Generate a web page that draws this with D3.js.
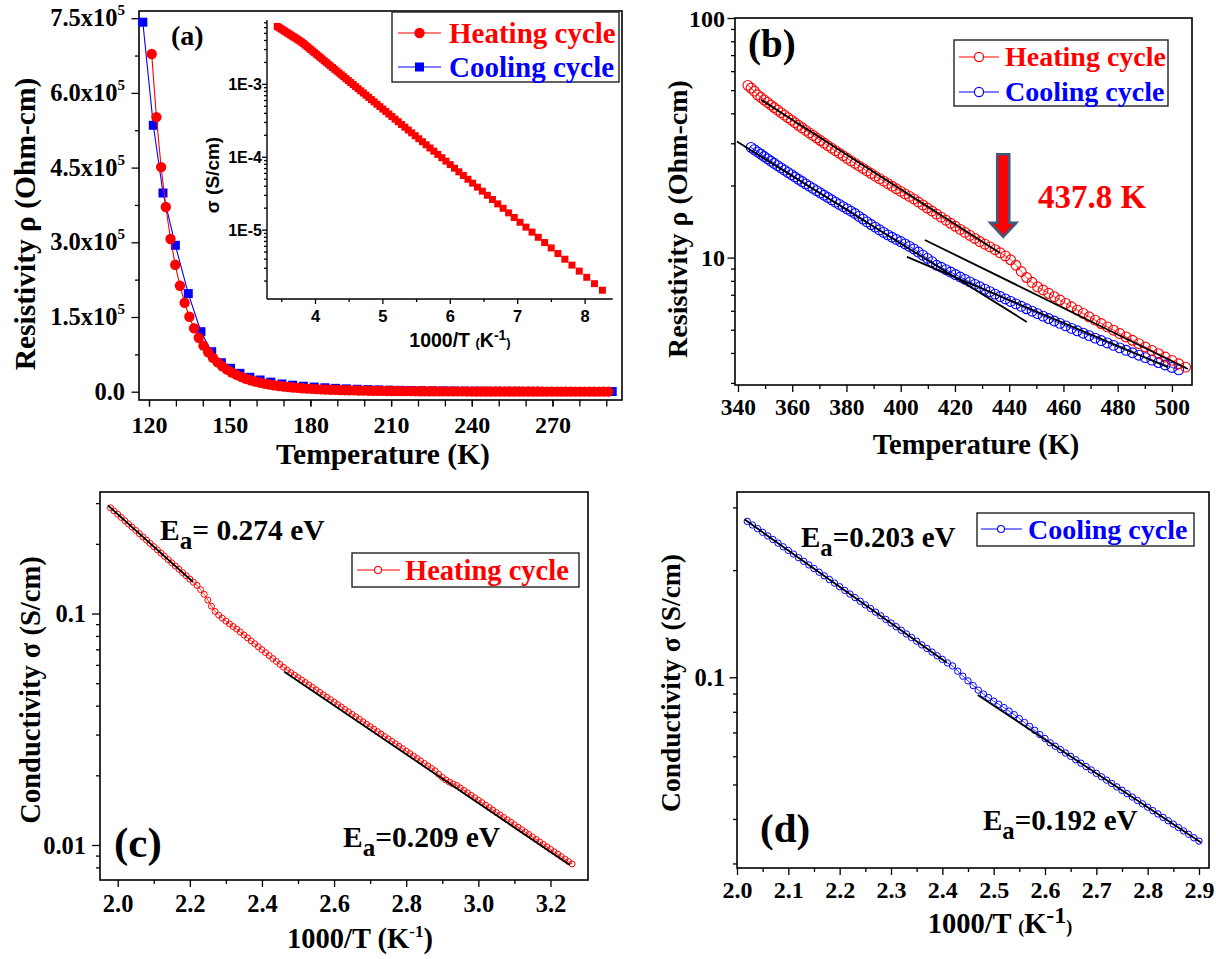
<!DOCTYPE html>
<html><head><meta charset="utf-8">
<script src="https://cdn.jsdelivr.net/npm/d3@7"></script>
<style>body{margin:0;background:#fff}svg{display:block}</style>
</head><body>
<svg id="c" width="1216" height="959"></svg>
<script>
// ---------------- DATA ----------------
// Panel (a): heating cycle, low temperature
const heatA_T = [121.0,122.75,124.5,126.25,128.0,129.75,131.5,133.25,135.0,136.75,
138.5,140.25,142.0,143.75,145.5,147.25,149.0,150.75,152.5,154.25,
156.0,157.75,159.5,161.25,163.0,164.75,166.5,168.25,170.0,171.75,
173.5,175.25,177.0,178.75,180.5,182.25,184.0,185.75,187.5,189.25,
191.0,192.75,194.5,196.25,198.0,199.75,201.5,203.25,205.0,206.75,
208.5,210.25,212.0,213.75,215.5,217.25,219.0,220.75,222.5,224.25,
226.0,227.75,229.5,231.25,233.0,234.75,236.5,238.25,240.0,241.75,
243.5,245.25,247.0,248.75,250.5,252.25,254.0,255.75,257.5,259.25,
261.0,262.75,264.5,266.25,268.0,269.75,271.5,273.25,275.0,276.75,
278.5,280.25,282.0,283.75,285.5,287.25,289.0,290.75];
const heatA_rho = [678200,551400,451000,370900,306600,254800,212700,178500,150500,127400,
108300,92450,79210,68130,58840,50970,44310,38640,33800,29660,
26100,23040,20390,18090,16090,14350,12830,11490,10320,9290,
8380,7580,6860,6230,5660,5150,4700,4300,3935,3610,
3310,3050,2810,2590,2390,2215,2050,1904,1768,1645,
1531,1427,1332,1245,1165,1091,1022,959,901,848,
797,751,708,669,631,597,565,535,507,481,
456,433,412,392,373,355,338,323,308,294,
281,269,259,250.5,242,234,227,220,213,206,
200,194,188,183,177,172,167,163];
// Panel (a): cooling cycle
const coolA_T = [117.7,121.6,125.2,129.8,134.6,139.3,143.3,146.9,150.3,153.8,
157.5,161.3,165.3,169.4,173.4,177.4,181.4,185.4,189.4,193.4,
197.4,201.4,205.4,209.4,213.4,217.4,221.4,225.4,229.4,233.4,
237.4,241.4,245.4,249.4,253.4,257.4,261.4,265.4,269.4,273.4,
277.4,281.4,285.4,289.4,292.2];
const coolA_rho = [742000,535000,399000,294000,197000,120500,80300,58200,47000,36900,
28900,23500,19200,15500,13000,11000,9300,7900,6700,5700,
4900,4200,3600,3100,2700,2300,2000,1800,1600,1400,
1200,1100,1000,900,800,700,650,600,550,500,
450,400,370,340,300];
const aXTicks = [120,150,180,210,240,270];
const aYTicks = [0,150000,300000,450000,600000,750000];
const insetXTicks = [4,5,6,7,8];
const insetYTicks = [1e-5,1e-4,1e-3];
const insetYLabels = ["1E-5","1E-4","1E-3"];

// Panels (b),(c): heating cycle, high temperature (x = 1000/T, sigma in S/cm)
const heatInvT = [1.98,1.99,2.00,2.01,2.02,2.03,2.04,2.05,2.06,2.07,
2.08,2.09,2.10,2.11,2.12,2.13,2.14,2.15,2.16,2.17,
2.18,2.19,2.20,2.21,2.22,2.23,2.24,2.25,2.26,2.27,
2.28,2.29,2.30,2.31,2.32,2.33,2.34,2.35,2.36,2.37,
2.38,2.39,2.40,2.41,2.42,2.43,2.44,2.45,2.46,2.47,
2.48,2.49,2.50,2.51,2.52,2.53,2.54,2.55,2.56,2.57,
2.58,2.59,2.60,2.61,2.62,2.63,2.64,2.65,2.66,2.67,
2.68,2.69,2.70,2.71,2.72,2.73,2.74,2.75,2.76,2.77,
2.78,2.79,2.80,2.81,2.82,2.83,2.84,2.85,2.86,2.87,
2.88,2.89,2.90,2.91,2.92,2.93,2.94,2.95,2.96,2.97,
2.98,2.99,3.00,3.01,3.02,3.03,3.04,3.05,3.06,3.07,
3.08,3.09,3.10,3.11,3.12,3.13,3.14,3.15,3.16,3.17,
3.18,3.19,3.20,3.21,3.22,3.23,3.24,3.25,3.26];
const heatSigma = [0.2864,0.2773,0.2685,0.2600,0.2518,0.2438,0.2361,0.2286,0.2213,0.2143,
0.2075,0.2009,0.1946,0.1884,0.1824,0.1766,0.1710,0.1656,0.1604,0.1553,
0.1503,0.1456,0.1409,0.1365,0.1324,0.1268,0.1211,0.1143,0.1076,0.1021,
0.0984,0.0955,0.0927,0.0902,0.0879,0.0857,0.0832,0.0808,0.0785,0.0762,
0.0740,0.0719,0.0698,0.0678,0.0658,0.0639,0.0621,0.0603,0.0586,0.0569,
0.05553,0.05419,0.05289,0.05161,0.05037,0.04915,0.04797,0.04681,0.04568,0.04458,
0.04351,0.04246,0.04143,0.04043,0.03946,0.03851,0.03758,0.03667,0.03579,0.03493,
0.03408,0.03326,0.03246,0.03168,0.03091,0.03017,0.02944,0.02873,0.02804,0.02736,
0.02670,0.02606,0.02543,0.02482,0.02422,0.02364,0.02307,0.02251,0.02197,0.02144,
0.02092,0.02020,0.01960,0.01910,0.01870,0.01835,0.01807,0.01764,0.01721,0.01680,
0.01639,0.01600,0.01561,0.01524,0.01487,0.01451,0.01416,0.01382,0.01349,0.01316,
0.01285,0.01254,0.01223,0.01194,0.01165,0.01137,0.01110,0.01083,0.01057,0.01031,
0.01006,0.00982,0.00958,0.00935,0.00913,0.00891,0.00869,0.00848,0.00828];
// Panels (b),(d): cooling cycle
const coolInvT = [1.99,2.00,2.01,2.02,2.03,2.04,2.05,2.06,2.07,2.08,
2.09,2.10,2.11,2.12,2.13,2.14,2.15,2.16,2.17,2.18,
2.19,2.20,2.21,2.22,2.23,2.24,2.25,2.26,2.27,2.28,
2.29,2.30,2.31,2.32,2.33,2.34,2.35,2.36,2.37,2.38,
2.39,2.40,2.41,2.42,2.43,2.44,2.45,2.46,2.47,2.48,
2.49,2.50,2.51,2.52,2.53,2.54,2.55,2.56,2.57,2.58,
2.59,2.60,2.61,2.62,2.63,2.64,2.65,2.66,2.67,2.68,
2.69,2.70,2.71,2.72,2.73,2.74,2.75,2.76,2.77,2.78,
2.79,2.80,2.81,2.82,2.83,2.84,2.85,2.86,2.87,2.88,
2.89,2.90];
const coolSigma = [0.2941,0.2873,0.2806,0.2741,0.2677,0.2615,0.2554,0.2495,0.2437,0.2381,
0.2325,0.2271,0.2219,0.2167,0.2117,0.2068,0.2020,0.1973,0.1927,0.1882,
0.1839,0.1796,0.1754,0.1713,0.1674,0.1635,0.1597,0.1560,0.1524,0.1488,
0.1454,0.1420,0.1387,0.1355,0.1323,0.1293,0.1263,0.1233,0.1205,0.1177,
0.1149,0.1123,0.1097,0.1076,0.1040,0.1007,0.0977,0.0948,0.0920,0.08974,
0.08770,0.08570,0.08395,0.08222,0.08035,0.07852,0.07656,0.07464,0.07278,0.07096,
0.06902,0.06730,0.06544,0.06402,0.06263,0.06128,0.05995,0.05865,0.05738,0.05613,
0.05492,0.05373,0.05256,0.05142,0.05031,0.04922,0.04815,0.04711,0.04609,0.04509,
0.04411,0.04316,0.04222,0.04131,0.04041,0.03954,0.03868,0.03784,0.03702,0.03622,
0.03543,0.03466];

const bXTicks = [340,360,380,400,420,440,460,480,500];
const bYTicks = [10,100];
const cXTicks = [2.0,2.2,2.4,2.6,2.8,3.0,3.2];
const cYTicks = [0.01,0.1];
const dXTicks = [2.0,2.1,2.2,2.3,2.4,2.5,2.6,2.7,2.8,2.9];
const dYTicks = [0.1];

// Linear fits [x1, y1, x2, y2]
const fitB = [[348.5,45.6,436.6,10.46],[408.9,11.85,505.9,3.43],[339.6,30.5,446.5,5.39],[402.3,10.07,498.5,3.49]];
const fitC = [[1.973,0.2931,2.209,0.1368],[2.462,0.05598,3.253,0.008222]];
const fitD = [[2.015,0.2773,2.409,0.1099],[2.469,0.0891,2.904,0.03436]];
const arrowT = 437.8, arrowRho = [27, 12.2];

// ---------------- DRAWING ----------------
const svg = d3.select("#c");
const SERIF = '"Liberation Serif","Times New Roman",serif';
const SANS = '"Liberation Sans",Arial,sans-serif';
const RED = "#ff0000", BLUE = "#0000ff";

function frame(x0,y0,x1,y1){
  svg.append("rect").attr("x",x0).attr("y",y0).attr("width",x1-x0).attr("height",y1-y0)
    .attr("fill","none").attr("stroke","#000").attr("stroke-width",1.6);
}
function styleTicks(g){ g.select(".domain").remove(); g.selectAll(".tick line").attr("stroke","#000").attr("stroke-width",1.3); }
function xAxis(scale, vals, y, size, fmt, lab){
  const g = svg.append("g").attr("transform",`translate(0,${y})`)
    .call(d3.axisBottom(scale).tickValues(vals).tickSize(size).tickSizeOuter(0).tickFormat(fmt||(()=>"")));
  styleTicks(g);
  if (fmt) g.selectAll(".tick text").attr("y",lab.off).attr("dy",0).attr("font-family",lab.ff||SERIF)
     .attr("font-size",lab.fs).attr("font-weight","bold").attr("fill","#000");
  return g;
}
function yAxis(scale, vals, x, size, fmt, lab){
  const g = svg.append("g").attr("transform",`translate(${x},0)`)
    .call(d3.axisLeft(scale).tickValues(vals).tickSize(size).tickSizeOuter(0).tickFormat(fmt||(()=>"")));
  styleTicks(g);
  if (fmt) g.selectAll(".tick text").attr("x",-lab.off).attr("dy","0.34em").attr("font-family",lab.ff||SERIF)
     .attr("font-size",lab.fs).attr("font-weight","bold").attr("fill","#000");
  return g;
}
function logTicks(dom, majorOnly){
  const out=[]; const lo=Math.floor(Math.log10(dom[0])), hi=Math.ceil(Math.log10(dom[1]));
  for(let e=lo;e<=hi;e++) for(let m=1;m<=9;m++){ const v=+(m*Math.pow(10,e)).toPrecision(6); if(v>=dom[0]&&v<=dom[1]&&(m===1)===majorOnly) out.push(v); }
  return out;
}
function txt(x,y,s,o={}){
  return svg.append("text").attr("x",x).attr("y",y).attr("font-family",o.ff||SERIF).attr("font-weight","bold")
    .attr("font-size",o.fs||28).attr("fill",o.fill||"#000").attr("text-anchor",o.anchor||"start").text(s);
}
function vtxt(x,y,s,o={}){
  return svg.append("text").attr("transform",`translate(${x},${y}) rotate(-90)`).attr("font-family",o.ff||SERIF)
    .attr("font-weight","bold").attr("font-size",o.fs||28).attr("fill","#000").attr("text-anchor","middle").text(s);
}
function invTitle(x,y,o){
  const t = svg.append("text").attr("x",x).attr("y",y).attr("font-family",o.ff).attr("font-weight","bold")
    .attr("font-size",o.fs).attr("text-anchor","middle").attr("fill","#000");
  t.append("tspan").text("1000/T ");
  t.append("tspan").attr("font-size",o.pfs).text("(");
  t.append("tspan").text("K");
  t.append("tspan").attr("font-size",o.sfs).attr("dy",-o.sup).text("-1");
  t.append("tspan").attr("font-size",o.pfs).attr("dy",o.sup).text(")");
}
function ea(x,y,val,fs){
  const t = txt(x,y,"E",{fs:fs});
  t.append("tspan").attr("font-size",fs*0.85).attr("dy",9).text("a");
  t.append("tspan").attr("dy",-9).text(val);
}
function legendBox(x0,y0,x1,y1){
  svg.append("rect").attr("x",x0).attr("y",y0).attr("width",x1-x0).attr("height",y1-y0)
    .attr("fill","#fff").attr("stroke","#222").attr("stroke-width",1.4);
}

// ===== Panel (a) =====
const xa = d3.scaleLinear().domain([116.28,295.84]).range([139,622]);
const ya = d3.scaleLinear().domain([-16667,764458]).range([400,11]);
frame(139,11,622,400);
xAxis(xa, d3.range(120,291,10), 400, 6.5);
xAxis(xa, aXTicks, 400, 6.5, d=>d, {off:33, fs:24});
yAxis(ya, [75000,225000,375000,525000,675000], 139, 4);
yAxis(ya, aYTicks, 139, 7.5);
aYTicks.forEach(v=>{
  const t = txt(125, ya(v)+8, v===0 ? "0.0" : (v/1e5).toFixed(1)+"x10", {fs:24.5, anchor:"end"});
  if (v!==0) t.append("tspan").attr("font-size",15).attr("dy",-11).text("5");
});
const lineA = d3.line().x(d=>xa(d[0])).y(d=>ya(d[1]));
const coolA = coolA_T.map((t,i)=>[t,coolA_rho[i]]);
const heatA = heatA_T.map((t,i)=>[t,heatA_rho[i]]);
svg.append("path").datum(coolA).attr("d",lineA).attr("fill","none").attr("stroke",BLUE).attr("stroke-width",1.1);
svg.selectAll(null).data(coolA).join("rect").attr("x",d=>xa(d[0])-4.5).attr("y",d=>ya(d[1])-4.5)
  .attr("width",9).attr("height",9).attr("fill",BLUE);
svg.append("path").datum(heatA).attr("d",lineA).attr("fill","none").attr("stroke",RED).attr("stroke-width",1.1);
svg.selectAll(null).data(heatA).join("circle").attr("cx",d=>xa(d[0])).attr("cy",d=>ya(d[1])).attr("r",5.2).attr("fill",RED);
vtxt(35,224,"Resistivity \u03c1 (Ohm-cm)",{fs:29.5});
txt(383,464,"Temperature (K)",{anchor:"middle",fs:29.5});
txt(171,45,"(a)",{fs:28});
// legend (a)
legendBox(392,12,619,82);
svg.append("line").attr("x1",398).attr("x2",441).attr("y1",33).attr("y2",33).attr("stroke",RED).attr("stroke-width",1.1);
svg.append("circle").attr("cx",419.5).attr("cy",33).attr("r",5.2).attr("fill",RED);
txt(449,43,"Heating cycle",{fill:RED,fs:29});
svg.append("line").attr("x1",398).attr("x2",441).attr("y1",67).attr("y2",67).attr("stroke",BLUE).attr("stroke-width",1.1);
svg.append("rect").attr("x",415).attr("y",62.5).attr("width",9).attr("height",9).attr("fill",BLUE);
txt(449,77,"Cooling cycle",{fill:BLUE,fs:29});

// ===== Inset =====
const xi = d3.scaleLinear().domain([3.288,8.417]).range([267,612.7]);
const yi = d3.scaleLog().domain([1.117e-6,7.52e-3]).range([299,20]);
svg.append("line").attr("x1",267).attr("x2",267).attr("y1",20).attr("y2",299).attr("stroke","#000").attr("stroke-width",1.4);
svg.append("line").attr("x1",267).attr("x2",612.7).attr("y1",299).attr("y2",299).attr("stroke","#000").attr("stroke-width",1.4);
xAxis(xi, [3.5,4.5,5.5,6.5,7.5], 299, 3);
xAxis(xi, insetXTicks, 299, 5, d=>d, {off:23, fs:16.5, ff:SANS});
yAxis(yi, logTicks(yi.domain(), false), 267, 3);
yAxis(yi, insetYTicks, 267, 5, (d,i)=>insetYLabels[i], {off:5, fs:16, ff:SANS});
const insetPts = heatA_T.map((t,i)=>[1000/t, 1/heatA_rho[i]]);
svg.selectAll(null).data(insetPts).join("rect").attr("x",d=>xi(d[0])-3.5).attr("y",d=>yi(d[1])-3.5)
  .attr("width",7).attr("height",7).attr("fill",RED);
invTitle(460,347,{ff:SANS,fs:19.5,pfs:13,sfs:14,sup:7});
vtxt(219,175,"\u03c3 (S/cm)",{ff:SANS,fs:19});

// ===== Panel (b) =====
const xb = d3.scaleLinear().domain([338.9,507.4]).range([735,1192]);
const yb = d3.scaleLog().domain([2.94,100]).range([385,18]);
frame(735,18,1192,385);
xAxis(xb, d3.range(350,501,20), 385, 4);
xAxis(xb, bXTicks, 385, 7, d=>d, {off:30, fs:23.5});
yAxis(yb, logTicks(yb.domain(), false), 735, 4);
yAxis(yb, bYTicks, 735, 7.5, d=>d, {off:10, fs:24});
const heatB = heatInvT.map((x,i)=>[1000/x, 1/heatSigma[i]]).filter(d=>d[0]>=343);
const coolB = coolInvT.map((x,i)=>[1000/x, 1/coolSigma[i]]);
const lineB = d3.line().x(d=>xb(d[0])).y(d=>yb(d[1]));
[[coolB,BLUE],[heatB,RED]].forEach(([data,col])=>{
  svg.append("path").datum(data).attr("d",lineB).attr("fill","none").attr("stroke",col).attr("stroke-width",0.8);
  svg.selectAll(null).data(data).join("circle").attr("cx",d=>xb(d[0])).attr("cy",d=>yb(d[1])).attr("r",4.9)
    .attr("fill","none").attr("stroke",col).attr("stroke-width",1.1);
});
fitB.forEach(f=>svg.append("line").attr("x1",xb(f[0])).attr("y1",yb(f[1])).attr("x2",xb(f[2])).attr("y2",yb(f[3]))
  .attr("stroke","#000").attr("stroke-width",1.8));
// arrow
{
  const ax = xb(arrowT), yt = yb(arrowRho[0]), yh = yb(arrowRho[1]);
  const pts = [[ax-6,yt],[ax+6,yt],[ax+6,yh-14],[ax+13,yh-14],[ax,yh],[ax-13,yh-14],[ax-6,yh-14]];
  svg.append("polygon").attr("points",pts.map(p=>p.join(",")).join(" ")).attr("fill",RED)
    .attr("stroke","#44597a").attr("stroke-width",2.6).attr("stroke-linejoin","miter");
}
txt(1038,208,"437.8 K",{fs:33,fill:RED});
txt(748,57,"(b)",{fs:39});
vtxt(687,219,"Resistivity \u03c1 (Ohm-cm)",{fs:28});
txt(976,454,"Temperature (K)",{anchor:"middle",fs:28.5});
legendBox(954,40,1168,106);
[[57,RED,"Heating cycle"],[92,BLUE,"Cooling cycle"]].forEach(([y,c,s])=>{
  svg.append("line").attr("x1",959).attr("x2",999).attr("y1",y).attr("y2",y).attr("stroke",c).attr("stroke-width",1.1);
  svg.append("circle").attr("cx",979).attr("cy",y).attr("r",4.6).attr("fill","#fff").attr("stroke",c).attr("stroke-width",1.2);
  txt(1005,y+9,s,{fill:c,fs:28});
});

// ===== Panel (c) =====
const xc = d3.scaleLinear().domain([1.951,3.304]).range([100,588]);
const yc = d3.scaleLog().domain([0.00706,0.335]).range([880,492]);
frame(100,492,588,880);
xAxis(xc, [2.1,2.3,2.5,2.7,2.9,3.1], 880, 4);
xAxis(xc, cXTicks, 880, 7, d=>d.toFixed(1), {off:32, fs:24.5});
yAxis(yc, logTicks(yc.domain(), false), 100, 4);
yAxis(yc, cYTicks, 100, 8, d=>d, {off:14, fs:24.5});
const heatC = heatInvT.map((x,i)=>[x, heatSigma[i]]);
const lineC = d3.line().x(d=>xc(d[0])).y(d=>yc(d[1]));
svg.append("path").datum(heatC).attr("d",lineC).attr("fill","none").attr("stroke",RED).attr("stroke-width",0.8);
svg.selectAll(null).data(heatC).join("circle").attr("cx",d=>xc(d[0])).attr("cy",d=>yc(d[1])).attr("r",3)
  .attr("fill","none").attr("stroke",RED).attr("stroke-width",1);
fitC.forEach(f=>svg.append("line").attr("x1",xc(f[0])).attr("y1",yc(f[1])).attr("x2",xc(f[2])).attr("y2",yc(f[3]))
  .attr("stroke","#000").attr("stroke-width",1.8));
ea(160,540,"= 0.274 eV",29.5);
ea(343,847,"=0.209 eV",29.5);
txt(114,857,"(c)",{fs:43});
vtxt(40,690,"Conductivity \u03c3 (S/cm)",{fs:28.5});
invTitle(360,948,{ff:SERIF,fs:28.5,pfs:28.5,sfs:17,sup:11});
legendBox(352,553,579,587);
svg.append("line").attr("x1",357).attr("x2",400).attr("y1",570).attr("y2",570).attr("stroke",RED).attr("stroke-width",1.1);
svg.append("circle").attr("cx",378).attr("cy",570).attr("r",3.5).attr("fill","#fff").attr("stroke",RED).attr("stroke-width",1.1);
txt(405,580,"Heating cycle",{fill:RED,fs:28.5});

// ===== Panel (d) =====
const xd = d3.scaleLinear().domain([2.0,2.9195]).range([737,1209]);
const yd = d3.scaleLog().domain([0.02913,0.3314]).range([868,492]);
frame(737,492,1209,868);
xAxis(xd, [2.05,2.15,2.25,2.35,2.45,2.55,2.65,2.75,2.85], 868, 4);
xAxis(xd, dXTicks, 868, 7, d=>d.toFixed(1), {off:30, fs:24});
yAxis(yd, logTicks(yd.domain(), false), 737, 4);
yAxis(yd, dYTicks, 737, 7.5, d=>d, {off:12, fs:24.5});
const coolD = coolInvT.map((x,i)=>[x, coolSigma[i]]).filter(d=>d[0]>=2.015);
const lineD = d3.line().x(d=>xd(d[0])).y(d=>yd(d[1]));
svg.append("path").datum(coolD).attr("d",lineD).attr("fill","none").attr("stroke",BLUE).attr("stroke-width",0.8);
svg.selectAll(null).data(coolD).join("circle").attr("cx",d=>xd(d[0])).attr("cy",d=>yd(d[1])).attr("r",3.2)
  .attr("fill","none").attr("stroke",BLUE).attr("stroke-width",1);
fitD.forEach(f=>svg.append("line").attr("x1",xd(f[0])).attr("y1",yd(f[1])).attr("x2",xd(f[2])).attr("y2",yd(f[3]))
  .attr("stroke","#000").attr("stroke-width",1.8));
ea(801,547,"=0.203 eV",29);
ea(983,830,"=0.192 eV",29);
txt(760,842,"(d)",{fs:41});
vtxt(680,683,"Conductivity \u03c3 (S/cm)",{fs:27.5});
invTitle(1000,933,{ff:SERIF,fs:28.5,pfs:18,sfs:24,sup:10});
legendBox(977,513,1194,546);
svg.append("line").attr("x1",981).attr("x2",1022).attr("y1",529).attr("y2",529).attr("stroke",BLUE).attr("stroke-width",1.1);
svg.append("circle").attr("cx",1001).attr("cy",529).attr("r",3.5).attr("fill","#fff").attr("stroke",BLUE).attr("stroke-width",1.1);
txt(1028,539,"Cooling cycle",{fill:BLUE,fs:28});
</script>
</body></html>
